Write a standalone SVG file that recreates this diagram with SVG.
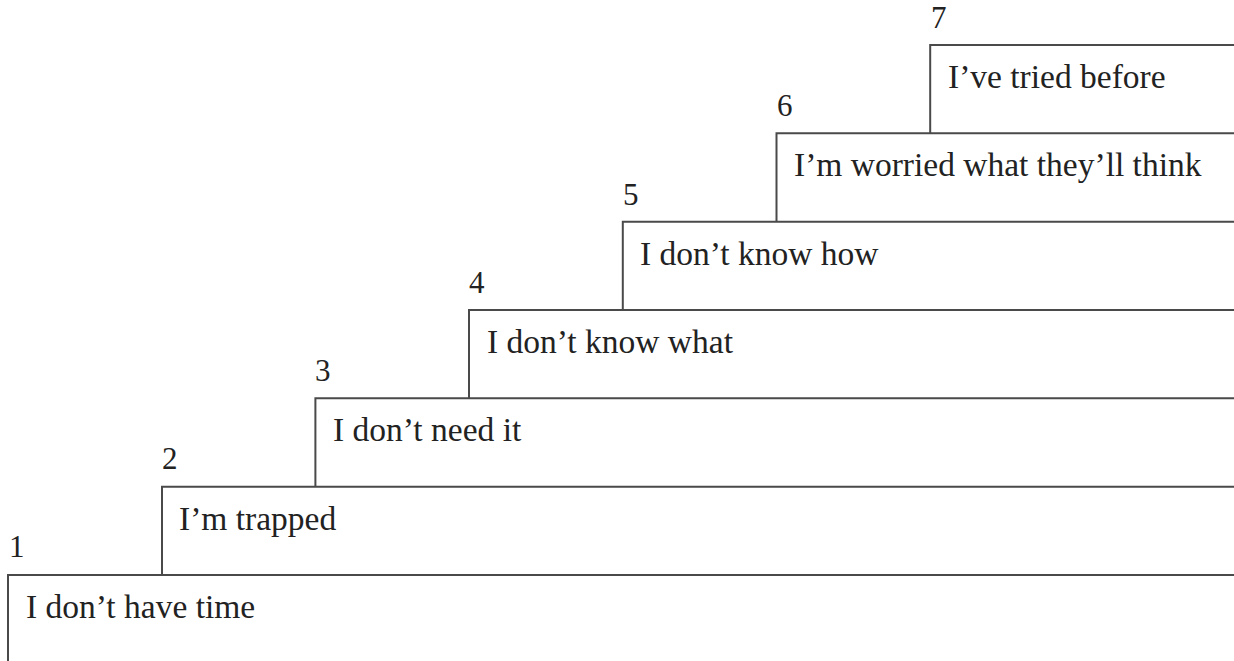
<svg xmlns="http://www.w3.org/2000/svg" width="1234" height="661" viewBox="0 0 1234 661">
  <style>
    .edge { fill: none; stroke: #4a4a4a; stroke-width: 2; }
    .num { font-family: "Liberation Serif", serif; font-size: 31px; fill: #222; }
    .label { font-family: "Liberation Serif", serif; font-size: 33.5px; fill: #222; }
  </style>
  <rect width="1234" height="661" fill="#fff"/>

  <!-- each step: left riser from the step below, then tread running to the right edge -->
  <g id="step1">
    <path class="edge" d="M8,661 V575 H1234"/>
    <text class="num" x="9" y="557">1</text>
    <text class="label" x="26" y="618">I don’t have time</text>
  </g>
  <g id="step2">
    <path class="edge" d="M162,575 V486.7 H1234"/>
    <text class="num" x="162" y="469">2</text>
    <text class="label" x="179" y="529.7">I’m trapped</text>
  </g>
  <g id="step3">
    <path class="edge" d="M315.4,486.7 V398.3 H1234"/>
    <text class="num" x="315" y="381">3</text>
    <text class="label" x="333" y="441.3">I don’t need it</text>
  </g>
  <g id="step4">
    <path class="edge" d="M469,398.3 V310 H1234"/>
    <text class="num" x="469" y="293">4</text>
    <text class="label" x="487" y="353">I don’t know what</text>
  </g>
  <g id="step5">
    <path class="edge" d="M622.8,310 V221.7 H1234"/>
    <text class="num" x="623" y="205">5</text>
    <text class="label" x="640" y="264.7">I don’t know how</text>
  </g>
  <g id="step6">
    <path class="edge" d="M776.5,221.7 V133.3 H1234"/>
    <text class="num" x="777" y="116">6</text>
    <text class="label" x="794" y="176.3">I’m worried what they’ll think</text>
  </g>
  <g id="step7">
    <path class="edge" d="M930.2,133.3 V45 H1234"/>
    <text class="num" x="931" y="28">7</text>
    <text class="label" x="948" y="88">I’ve tried before</text>
  </g>
</svg>
